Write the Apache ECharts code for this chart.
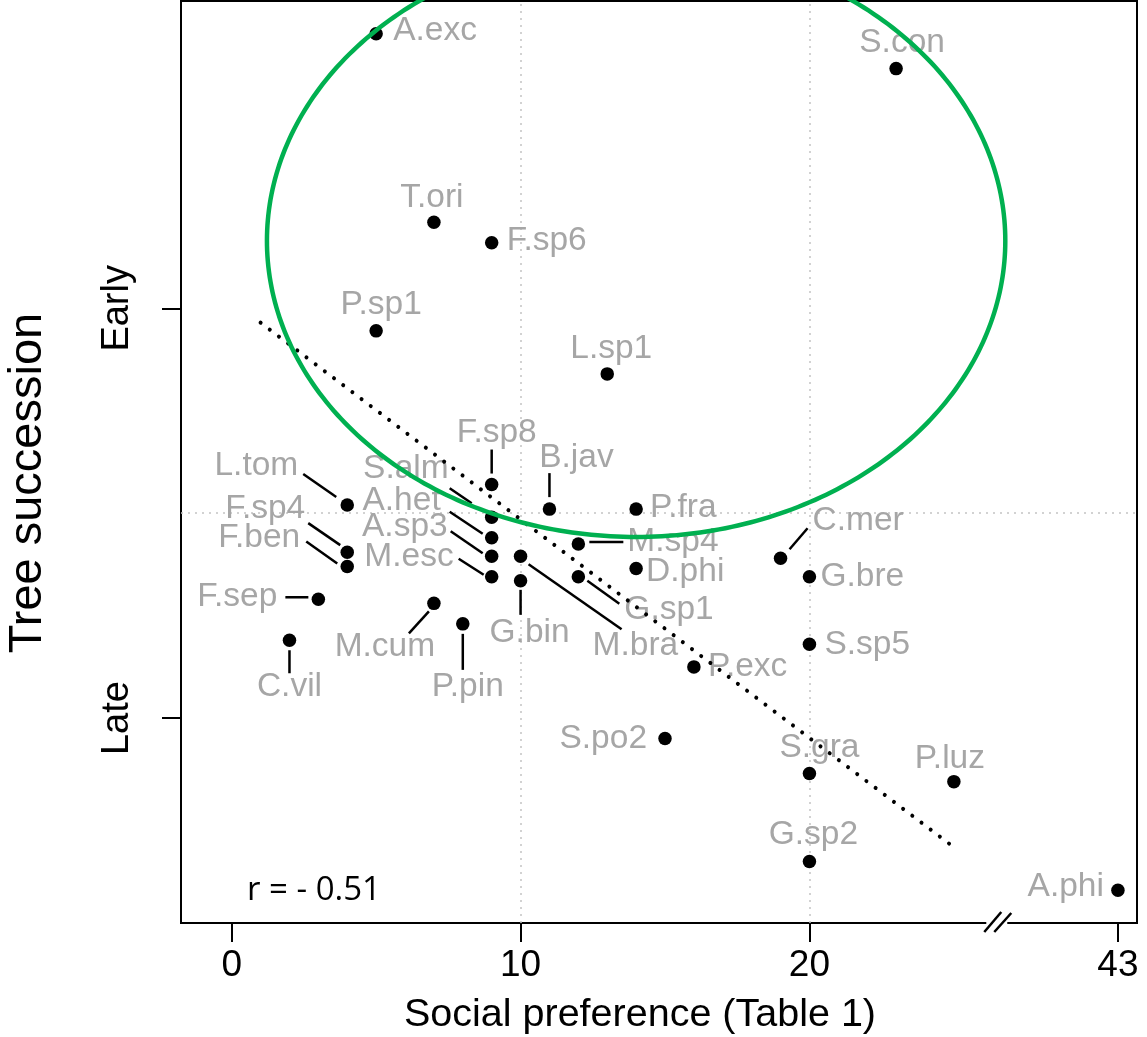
<!DOCTYPE html>
<html><head><meta charset="utf-8">
<script src="https://cdn.jsdelivr.net/npm/echarts@6/dist/echarts.min.js"></script>
<style>html,body{margin:0;padding:0;background:#fff}#c{width:1147px;height:1037px}</style>
</head><body><div id="c"></div>
<script>
// ---------- data ----------
const species = ['A.exc','S.con','T.ori','F.sp6','P.sp1','L.sp1','F.sp8','B.jav','P.fra','L.tom',
  'S.alm','A.het','A.sp3','M.esc','M.bra','G.bin','F.sp4','F.ben','F.sep','C.vil',
  'M.cum','P.pin','M.sp4','D.phi','G.sp1','C.mer','G.bre','S.sp5','P.exc','S.po2',
  'S.gra','P.luz','G.sp2','A.phi'];
const socialPref = [5,23,7,9,5,13,9,11,14,4,
  9,9,9,9,10,10,4,4,3,2,
  7,8,12,14,12,19,20,20,16,15,
  20,25,20,43];
const succession = [2.34,2.17,1.42,1.32,0.89,0.68,0.14,0.02,0.02,0.04,
  -0.02,-0.12,-0.21,-0.31,-0.21,-0.33,-0.19,-0.26,-0.42,-0.62,
  -0.44,-0.54,-0.15,-0.27,-0.31,-0.22,-0.31,-0.64,-0.75,-1.10,
  -1.27,-1.31,-1.70,-1.84];
const xTicks = [0,10,20,43];
const yTicks = [-1,1];
const yTickLabels = {'1':'Early','-1':'Late'};
const fitX = [1,25];
const fitY = [0.93,-1.63];
const ellipseCenter = [14.0,1.33];
const ellipseRadii = [12.78,1.446];
const refX = [10,20];
const refY = [0];
const corrText = 'r = - 0.51';
const breakRange = [26,39.36];

// ---------- label placement (pixel offsets from each point) ----------
const labelLayout = {
 'A.exc':['left',17,-3],
 'S.con':['center',6,-26],
 'T.ori':['center',-2,-25],
 'F.sp6':['left',15,-2],
 'P.sp1':['center',5,-26],
 'L.sp1':['center',4,-25],
 'F.sp8':['center',5,-52,[0,-35,0,-11]],
 'S.alm':['right',-43,-49,[-42,-29,-20,-14]],
 'A.het':['right',-51,-37,[-42,-26,-9,-4]],
 'A.sp3':['right',-44,-29,[-41,-25,-9,-3]],
 'M.esc':['right',-38,-20,[-33,-18,-8,-2]],
 'M.bra':['left',72,90,[8,8,101,73]],
 'G.bin':['center',9,52,[0,9,0,34]],
 'L.tom':['right',-49,-39,[-44,-31,-11,-8]],
 'F.sp4':['right',-42,-43,[-39,-29,-7,-7]],
 'F.ben':['right',-47,-29,[-41,-25,-10,-3]],
 'F.sep':['right',-41,-3,[-33,-2,-10,-2]],
 'C.vil':['center',0,47,[0,10,0,33]],
 'M.cum':['center',-49,43,[-5,8,-25,30]],
 'P.pin':['center',5,63,[0,10,0,46]],
 'B.jav':['center',27,-51,[0,-36,0,-12]],
 'P.fra':['left',14,-1],
 'M.sp4':['left',49,-2,[11,-2,45,-2]],
 'D.phi':['left',10,3],
 'G.sp1':['left',46,33,[9,4,41,27]],
 'C.mer':['left',32,-38,[9,-9,27,-30]],
 'G.bre':['left',11,0],
 'S.sp5':['left',15,0],
 'P.exc':['left',14,0],
 'S.po2':['right',-18,0],
 'S.gra':['center',10,-26],
 'P.luz':['center',-4,-23],
 'G.sp2':['center',4,-27],
 'A.phi':['right',-14,-3]
};

const FONT = '"Liberation Sans", Arial, sans-serif';
const chart = echarts.init(document.getElementById('c'), null, {renderer:'canvas'});
const points = socialPref.map((x,i)=>[x, succession[i], i]);

const option = {
  backgroundColor:'#fff',
  animation:false,
  grid:{left:181, right:10, top:1, bottom:114, show:true, borderColor:'#000', borderWidth:2, outerBoundsMode:'none', containLabel:false},
  xAxis:{
    type:'value', min:-1.755, max:43.66,
    breaks:[{start:breakRange[0], end:breakRange[1], gap:'3.14%'}],
    breakArea:{show:false, itemStyle:{opacity:0, borderWidth:0}},
    axisLine:{show:true, onZero:false, lineStyle:{color:'#000', width:2}},
    axisTick:{show:true, inside:false, length:19, customValues:xTicks, lineStyle:{color:'#000', width:2}},
    axisLabel:{show:true, customValues:xTicks, margin:24, fontSize:37, fontFamily:'Liberation Sans', color:'#000'},
    splitLine:{show:false}
  },
  yAxis:{
    type:'value', min:-2, max:2.5,
    axisLine:{show:true, onZero:false, lineStyle:{color:'#000', width:2}},
    axisTick:{show:true, length:19, customValues:yTicks, lineStyle:{color:'#000', width:2}},
    axisLabel:{show:true, customValues:yTicks, rotate:90, margin:44, fontSize:38, fontFamily:'Liberation Sans', color:'#000',
      formatter:v=>yTickLabels[String(v)]},
    splitLine:{show:false}
  },
  series:[
    {
      type:'custom', name:'labels', z:2, encode:{x:0,y:1},
      data:points,
      renderItem:function(params, api){
        const i = api.value(2);
        const name = species[i];
        const L = labelLayout[name];
        const p = api.coord([api.value(0), api.value(1)]);
        const children = [{type:'text', x:p[0]+L[1], y:p[1]+L[2],
          style:{text:name, align:L[0], verticalAlign:'middle', fill:'#a6a6a6', font:'33.5px '+FONT}}];
        if (L[3]) children.push({type:'line',
          shape:{x1:p[0]+L[3][0], y1:p[1]+L[3][1], x2:p[0]+L[3][2], y2:p[1]+L[3][3]},
          style:{stroke:'#000', lineWidth:2.5}});
        return {type:'group', children:children};
      },
      markLine:{silent:true, z:1, symbol:'none', label:{show:false},
        lineStyle:{color:'#c4c4c4', type:[2,5], width:1.5},
        data:refX.map(v=>({xAxis:v})).concat(refY.map(v=>({yAxis:v})))}
    },
    {
      type:'scatter', name:'species', z:3, symbol:'circle', symbolSize:13.5,
      itemStyle:{color:'#000', opacity:1},
      data:points.map(p=>[p[0],p[1]])
    },
    {
      type:'line', name:'fit', z:4, symbol:'none',
      lineStyle:{color:'#000', width:4, type:[0.01,11.5], cap:'round'},
      data:fitX.map((x,i)=>[x, fitY[i]])
    },
    {
      type:'custom', name:'ellipse', z:5, encode:{x:0,y:1},
      data:[[ellipseCenter[0], ellipseCenter[1], ellipseRadii[0], ellipseRadii[1]]],
      renderItem:function(params, api){
        const cx = api.value(0), cy = api.value(1), rx = api.value(2), ry = api.value(3);
        const c = api.coord([cx, cy]);
        const l = api.coord([cx - rx, cy]);
        const b = api.coord([cx, cy - ry]);
        const rpx = c[0]-l[0], rpy = b[1]-c[1];
        const pts = [];
        for (let k=0;k<360;k++){ const a = k*Math.PI/180; pts.push([c[0]+rpx*Math.cos(a), c[1]+rpy*Math.sin(a)]); }
        return {type:'polygon', shape:{points:pts}, style:{fill:'none', stroke:'#00b050', lineWidth:4.5}};
      }
    }
  ]
};
chart.setOption(option);

// decorations: titles, correlation text, axis break marks
const b1 = chart.convertToPixel({xAxisIndex:0}, breakRange[0]);
const b2 = chart.convertToPixel({xAxisIndex:0}, breakRange[1]);
const xc = (b1 + b2) / 2;
const ya = chart.convertToPixel({yAxisIndex:0}, -2);
chart.setOption({
  graphic:[
    {type:'text', x:640, y:1015, style:{text:'Social preference (Table 1)', font:'39.5px '+FONT, fill:'#000', align:'center', verticalAlign:'middle'}},
    {type:'text', x:28, y:483, rotation:Math.PI/2, style:{text:'Tree succession', font:'47px '+FONT, fill:'#000', align:'center', verticalAlign:'middle'}},
    {type:'text', x:247, y:891, style:{text:corrText, font:'33px "Open Sans", sans-serif', fill:'#000', align:'left', verticalAlign:'middle'}},
    {type:'rect', shape:{x:xc-11.5, y:ya-4, width:21, height:8}, style:{fill:'#fff'}, z:100},
    {type:'line', shape:{x1:xc-13.5, y1:ya+9, x2:xc+3.5, y2:ya-11}, style:{stroke:'#000', lineWidth:2.5}, z:101},
    {type:'line', shape:{x1:xc-3.5, y1:ya+9, x2:xc+13.5, y2:ya-10}, style:{stroke:'#000', lineWidth:2.5}, z:101}
  ]
});
</script>
</body></html>
